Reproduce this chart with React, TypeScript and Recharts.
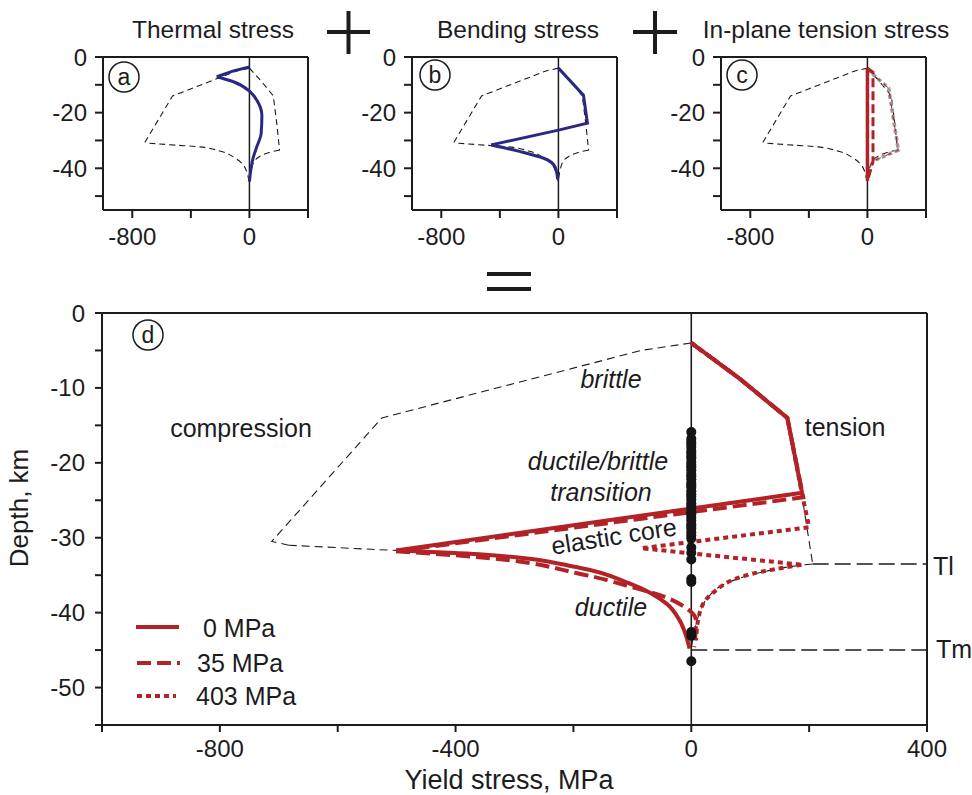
import { ComposedChart, Line, Scatter, XAxis, YAxis, ReferenceLine } from 'recharts'

type P = { x: number; y: number }

// yield envelope (thin black dashed), shared by all four panels
const envCompBrittle: P[] = [
  { x: 0, y: -4 }, { x: -85, y: -5 }, { x: -525, y: -14 }, { x: -712, y: -30.5 }, { x: -683, y: -31 },
]
const envCompDuctile: P[] = [
  { x: -683, y: -31 }, { x: -501, y: -31.7 }, { x: -360, y: -32.2 }, { x: -190, y: -34 },
  { x: -105, y: -36.1 }, { x: -42, y: -38.8 }, { x: -20, y: -41 }, { x: -8, y: -43.3 }, { x: 0, y: -45 },
]
const envTensBrittle: P[] = [
  { x: 0, y: -4 }, { x: 81, y: -8.7 }, { x: 163, y: -14 }, { x: 187, y: -24 }, { x: 206, y: -33.5 },
]
const envTensDuctile: P[] = [
  { x: 206, y: -33.5 }, { x: 183, y: -33.7 }, { x: 120, y: -34.6 }, { x: 59, y: -36.1 }, { x: 30, y: -37.8 },
  { x: 14, y: -40.1 }, { x: 5, y: -42.5 }, { x: 0, y: -45 },
]

// panel a, b
const thermalTop: P[] = [{ x: 0, y: -3.6 }, { x: -109, y: -5 }, { x: -223, y: -7.1 }]
const thermalBody: P[] = [
  { x: -223, y: -7.1 }, { x: -109, y: -8.9 }, { x: 5, y: -12.5 }, { x: 50, y: -15.5 }, { x: 85, y: -20.9 },
  { x: 80, y: -27.5 }, { x: 50, y: -32.3 }, { x: 27, y: -35.9 }, { x: 0, y: -44.8 },
]
const bendingTop: P[] = [
  { x: 0, y: -4 }, { x: 171, y: -13.7 }, { x: 198, y: -23.8 }, { x: 0, y: -26.3 }, { x: -460, y: -31.6 },
]
const bendingBottom: P[] = [
  { x: -460, y: -31.6 }, { x: -260, y: -34 }, { x: -100, y: -36.4 }, { x: -23, y: -39.5 }, { x: -5, y: -44 },
]

// panel c
const inplane0: P[] = [{ x: 0, y: -4 }, { x: 0, y: -44.5 }]
const inplane35: P[] = [{ x: 0, y: -4 }, { x: 38, y: -5.5 }, { x: 38, y: -37.5 }, { x: 3, y: -44 }]
const inplane403: P[] = [
  { x: 0, y: -4.5 }, { x: 145, y: -11.2 }, { x: 211, y: -33.5 }, { x: 56, y: -37 }, { x: 20, y: -39 },
]

// panel d
const sum0Brittle: P[] = [
  { x: 0, y: -4 }, { x: 81, y: -8.7 }, { x: 163, y: -14 }, { x: 188, y: -24 }, { x: -501, y: -31.7 },
]
const sum0Ductile: P[] = [
  { x: -501, y: -31.7 }, { x: -360, y: -32.2 }, { x: -190, y: -34 }, { x: -105, y: -36.1 }, { x: -42, y: -38.8 },
  { x: -20, y: -41 }, { x: -8, y: -43.3 }, { x: -3, y: -44.8 },
]
const sum35Brittle: P[] = [
  { x: 0, y: -4 }, { x: 81, y: -8.7 }, { x: 163, y: -14 }, { x: 190, y: -24.6 }, { x: -501, y: -31.8 },
]
const sum35Ductile: P[] = [
  { x: -501, y: -31.8 }, { x: -360, y: -32.6 }, { x: -190, y: -34.8 }, { x: -100, y: -36.6 }, { x: -45, y: -37.9 },
  { x: -12, y: -39.2 }, { x: 8, y: -41 }, { x: 5, y: -44.6 },
]
const sum403Brittle: P[] = [
  { x: 0, y: -4 }, { x: 81, y: -8.7 }, { x: 163, y: -14 }, { x: 188, y: -24.2 }, { x: 200, y: -28.6 },
  { x: -85, y: -31.4 }, { x: 187, y: -33.6 },
]
const sum403Ductile: P[] = [
  { x: 187, y: -33.6 }, { x: 104, y: -34.8 }, { x: 36, y: -37.4 }, { x: 14, y: -40.1 }, { x: 8, y: -43.7 },
]
const tlLine: P[] = [{ x: 206, y: -33.5 }, { x: 400, y: -33.5 }]
const tmLine: P[] = [{ x: 0, y: -45 }, { x: 400, y: -45 }]

const quakeDepths = [
  -15.9, -16.8, -17.2, -17.5, -17.9, -18.4, -18.7, -19.1, -19.4, -19.9, -20.3, -20.6, -21.0, -21.5,
  -21.8, -22.2, -22.7, -23.0, -23.3, -23.8, -24.2, -24.5, -24.9, -25.4, -25.7, -26.1, -26.6, -26.9,
  -27.3, -27.7, -28.2, -28.5, -28.8, -29.3, -29.7, -30.1, -31.3, -32.0, -32.9, -35.5, -35.9, -42.6,
  -43.1, -46.5,
]
const quakes: P[] = quakeDepths.map((y) => ({ x: 0, y }))

const mainXTicks = [-1000, -800, -600, -400, -200, 0, 200, 400]
const mainXLabels = [-800, -400, 0, 400]
const mainYTicks = [0, -5, -10, -15, -20, -25, -30, -35, -40, -45, -50, -55]
const mainYLabels = [0, -10, -20, -30, -40, -50]
const smallXTicks = [-800, -400, 0, 400]
const smallXLabels = [-800, 0]
const smallYTicks = [0, -10, -20, -30, -40, -50]
const smallYLabels = [0, -20, -40]

const FONT = '"Liberation Sans", Arial, Helvetica, sans-serif'
const RED = '#b32226'
const BLUE = '#2b2883'
const INK = '#1c1c1e'

const axisStyle = { stroke: INK, strokeWidth: 2 }
const tickFont = { fill: INK, fontSize: 24, fontFamily: FONT }

function lbl(list: number[]) {
  return (v: number) => (list.includes(v) ? String(v) : '')
}

// one polyline: straight for brittle parts, smooth (monotone in depth) for ductile parts
function seg(data: P[], stroke: string, width: number, dash?: string, curved = false) {
  return (
    <Line data={data} dataKey="y" type={curved ? 'monotoneY' : 'linear'} stroke={stroke} strokeWidth={width}
      strokeDasharray={dash} dot={false} activeDot={false} isAnimationActive={false} />
  )
}

function envelope(dash: string) {
  return [
    seg(envCompBrittle, INK, 1.1, dash),
    seg(envCompDuctile, INK, 1.1, dash, true),
    seg(envTensBrittle, INK, 1.1, dash),
    seg(envTensDuctile, INK, 1.1, dash, true),
  ]
}

function SmallPanel({
  left, width, marginLeft, marginRight, children,
}: { left: number; width: number; marginLeft: number; marginRight: number; children: React.ReactNode }) {
  return (
    <div style={{ position: 'absolute', left, top: 0, width, height: 265 }}>
      <ComposedChart width={width} height={265} margin={{ top: 49, right: marginRight, bottom: 15, left: marginLeft }}>
        <XAxis dataKey="x" type="number" domain={[-1000, 400]} allowDataOverflow ticks={smallXTicks}
          tickFormatter={lbl(smallXLabels)} axisLine={axisStyle} tickLine={axisStyle} tickSize={8} tickMargin={10}
          tick={tickFont} height={40} interval={0} />
        <XAxis xAxisId="top" orientation="top" dataKey="x" type="number" domain={[-1000, 400]} allowDataOverflow
          ticks={smallXTicks} tick={false} axisLine={axisStyle} tickLine={axisStyle} tickSize={8} height={8} />
        <YAxis dataKey="y" type="number" domain={[-55, 0]} allowDataOverflow ticks={smallYTicks}
          tickFormatter={lbl(smallYLabels)} axisLine={axisStyle} tickLine={axisStyle} tickSize={8} tickMargin={8}
          tick={tickFont} width={50} interval={0} />
        <YAxis yAxisId="right" orientation="right" dataKey="y" type="number" domain={[-55, 0]} allowDataOverflow
          ticks={smallYTicks} tick={false} axisLine={axisStyle} tickLine={axisStyle} tickSize={8} width={8} />
        <Line xAxisId="top" yAxisId="right" data={tlLine} dataKey="y" stroke="none" dot={false} isAnimationActive={false} />
        <ReferenceLine x={0} stroke={INK} strokeWidth={1.5} />
        {envelope('6 4')}
        {children}
      </ComposedChart>
    </div>
  )
}

function Circled({ x, y, ch }: { x: number; y: number; ch: string }) {
  return (
    <g>
      <circle cx={x} cy={y} r={15} fill="#fff" stroke={INK} strokeWidth={1.5} />
      <text x={x} y={y + 8} textAnchor="middle" fontSize={23} fontFamily={FONT} fill={INK}>{ch}</text>
    </g>
  )
}

export default function App() {
  const t = { fontFamily: FONT, fill: INK }
  return (
    <div style={{ position: 'absolute', left: 0, top: 0, width: 972, height: 795, background: '#fff', overflow: 'hidden' }}>
      <SmallPanel left={0} width={320} marginLeft={53} marginRight={4}>
        {seg(thermalTop, BLUE, 3)}
        {seg(thermalBody, BLUE, 3, undefined, true)}
      </SmallPanel>
      <SmallPanel left={310} width={320} marginLeft={52} marginRight={5}>
        {seg(bendingTop, BLUE, 3)}
        {seg(bendingBottom, BLUE, 3, undefined, true)}
      </SmallPanel>
      <SmallPanel left={620} width={340} marginLeft={51} marginRight={26}>
        {seg(inplane403, '#9a9a9a', 3.5, '4 3')}
        {seg(inplane403, RED, 1, '6 5')}
        {seg(inplane35, RED, 3, '9 4')}
        {seg(inplane0, RED, 3.5)}
      </SmallPanel>

      <div style={{ position: 'absolute', left: 0, top: 270, width: 972, height: 525 }}>
        <ComposedChart width={972} height={525} margin={{ top: 33, right: 35, bottom: 30, left: 42 }}>
          <XAxis dataKey="x" type="number" domain={[-1000, 400]} allowDataOverflow ticks={mainXTicks}
            tickFormatter={lbl(mainXLabels)} axisLine={axisStyle} tickLine={axisStyle} tickSize={7} tickMargin={8}
            tick={tickFont} height={40} interval={0} />
          <XAxis xAxisId="top" orientation="top" dataKey="x" type="number" domain={[-1000, 400]} allowDataOverflow
            ticks={mainXTicks} tick={false} axisLine={axisStyle} tickLine={axisStyle} tickSize={7} height={10} />
          <YAxis dataKey="y" type="number" domain={[-55, 0]} allowDataOverflow ticks={mainYTicks}
            tickFormatter={lbl(mainYLabels)} axisLine={axisStyle} tickLine={axisStyle} tickSize={7} tickMargin={10}
            tick={tickFont} width={60} interval={0} />
          <YAxis yAxisId="right" orientation="right" dataKey="y" type="number" domain={[-55, 0]} allowDataOverflow
            ticks={mainYTicks} tick={false} axisLine={axisStyle} tickLine={axisStyle} tickSize={7} width={10} />
          <Line xAxisId="top" yAxisId="right" data={tlLine} dataKey="y" stroke="none" dot={false} isAnimationActive={false} />
          <ReferenceLine x={0} stroke={INK} strokeWidth={1.6} />
          {envelope('8 5')}
          {seg(tlLine, INK, 1.5, '16 6')}
          {seg(tmLine, INK, 1.5, '16 6')}
          {seg(sum403Brittle, RED, 4, '5 4')}
          {seg(sum403Ductile, RED, 4, '5 4', true)}
          {seg(sum35Brittle, RED, 4, '14 6')}
          {seg(sum35Ductile, RED, 4, '14 6', true)}
          {seg(sum0Brittle, RED, 4)}
          {seg(sum0Ductile, RED, 4, undefined, true)}
          <Scatter data={quakes} isAnimationActive={false}
            shape={(p: any) => <circle cx={p.cx} cy={p.cy} r={5} fill="#141416" />} />
        </ComposedChart>
      </div>

      <svg width={972} height={795} style={{ position: 'absolute', left: 0, top: 0, pointerEvents: 'none' }}>
        <text x={213} y={38} textAnchor="middle" fontSize={24.5} {...t}>Thermal stress</text>
        <text x={518} y={38} textAnchor="middle" fontSize={24.5} {...t}>Bending stress</text>
        <text x={826} y={38} textAnchor="middle" fontSize={24.5} {...t}>In-plane tension stress</text>
        <g stroke={INK} strokeWidth={4}>
          <line x1={327} y1={32} x2={370} y2={32} />
          <line x1={348.5} y1={11} x2={348.5} y2={54} />
          <line x1={633} y1={32} x2={677} y2={32} />
          <line x1={655} y1={11} x2={655} y2={54} />
          <line x1={487} y1={274} x2={531} y2={274} />
          <line x1={487} y1={289} x2={531} y2={289} />
        </g>
        <Circled x={124} y={77} ch="a" />
        <Circled x={435} y={75} ch="b" />
        <Circled x={742} y={75} ch="c" />
        <Circled x={148} y={335} ch="d" />

        <text x={611} y={388} textAnchor="middle" fontSize={25} fontStyle="italic" {...t}>brittle</text>
        <text x={241} y={437} textAnchor="middle" fontSize={25} {...t}>compression</text>
        <text x={845} y={436} textAnchor="middle" fontSize={25} {...t}>tension</text>
        <text x={598} y={470} textAnchor="middle" fontSize={25} fontStyle="italic" {...t}>ductile/brittle</text>
        <text x={601} y={501} textAnchor="middle" fontSize={25} fontStyle="italic" {...t}>transition</text>
        <text x={614} y={545} textAnchor="middle" fontSize={25} transform="rotate(-9 614 537)" {...t}>elastic core</text>
        <text x={611} y={616} textAnchor="middle" fontSize={25} fontStyle="italic" {...t}>ductile</text>
        <text x={933} y={575} fontSize={25} {...t}>Tl</text>
        <text x={936} y={658} fontSize={25} {...t}>Tm</text>

        <line x1={136} y1={627} x2={179} y2={627} stroke={RED} strokeWidth={4} />
        <line x1={137} y1={663} x2={180} y2={663} stroke={RED} strokeWidth={4} strokeDasharray="14 6" />
        <line x1={137} y1={696} x2={176} y2={696} stroke={RED} strokeWidth={4} strokeDasharray="5 4" />
        <text x={203} y={637} fontSize={25} {...t}>0 MPa</text>
        <text x={197} y={672} fontSize={25} {...t}>35 MPa</text>
        <text x={196} y={705} fontSize={25} {...t}>403 MPa</text>

        <text x={509} y={789} textAnchor="middle" fontSize={27} {...t}>Yield stress, MPa</text>
        <text x={28} y={508} textAnchor="middle" fontSize={26} transform="rotate(-90 28 508)" {...t}>Depth, km</text>
      </svg>
    </div>
  )
}
